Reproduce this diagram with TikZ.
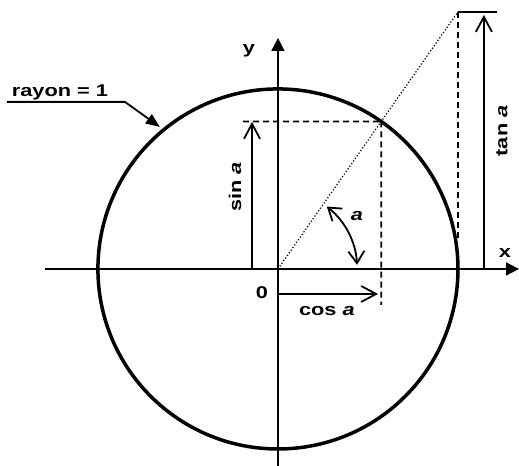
\documentclass[tikz,border=0pt]{standalone}
\usepackage{fontspec}
\setmainfont{Liberation Sans}[FakeStretch=1.28]
\usetikzlibrary{arrows.meta}
\tikzset{
  axis/.style={line width=1.8pt,-{Triangle[length=13pt,width=13pt]}},
  vec/.style={line width=1.8pt,-{Straight Barb[length=15pt,width=16pt]}},
  guide/.style={line width=1.8pt,dash pattern=on 6pt off 4pt},
  lbl/.style={font=\fontsize{17}{20}\selectfont\bfseries,inner sep=0pt}
}
\begin{document}
\begin{tikzpicture}[x=180pt,y=180pt]
\useasboundingbox (-1.544,-1.094) rectangle (1.339,1.494);
\coordinate (O) at (0,0);
\coordinate (P) at (55:1);
\coordinate (T) at (1,1.428);
\coordinate (xs) at (-1.294,0);
\coordinate (xe) at (1.339,0);
\coordinate (ys) at (0,-1.094);
\coordinate (ye) at (0,1.283);

\draw[axis] (xs)--(xe);
\draw[axis] (ys)--(ye);
\draw[line width=3.5pt] (O) circle[radius=1];

% tangente
\coordinate (tf) at (1,0.17);
\coordinate (te) at (1.217,1.428);
\coordinate (tb) at (1.144,0);
\coordinate (tt) at (1.144,1.411);
\draw[dotted,line width=1.2pt] (O)--(T);
\draw[guide] (T)--(tf);
\draw[line width=1.8pt] (T)--(te);
\draw[vec] (tb)--(tt);

% sinus et cosinus
\coordinate (sb) at (-0.144,0);
\coordinate (st) at (-0.144,0.817);
\coordinate (sl) at (-0.194,0.8192);
\coordinate (cf) at (0.5736,-0.2);
\coordinate (cb) at (0,-0.139);
\coordinate (ct) at (0.556,-0.139);
\draw[vec] (sb)--(st);
\draw[guide] (sl)--(P);
\draw[guide] (P)--(cf);
\draw[vec] (cb)--(ct);

% angle
\coordinate (a1) at (3:0.44);
\draw[line width=1.8pt,{Straight Barb[length=12pt,width=16pt]}-{Straight Barb[length=12pt,width=16pt]}]
  (a1) arc[start angle=3,end angle=52,radius=0.44];

% rayon
\coordinate (r1) at (-1.506,0.928);
\coordinate (r2) at (-0.85,0.928);
\coordinate (r3) at (-0.656,0.789);
\draw[line width=1.8pt,-{Triangle[length=14pt,width=11pt]}] (r1)--(r2)--(r3);

\node[lbl] (rayon) at (-1.211,0.983) {rayon = 1};
\node[lbl] (zero) at (-0.089,-0.133) {0};
\node[lbl] (cos) at (0.272,-0.233) {cos \textit{a}};
\node[lbl,rotate=90] (sin) at (-0.239,0.456) {sin \textit{a}};
\node[lbl] (ang) at (0.439,0.294) {\textit{a}};
\node[lbl,rotate=90] (tan) at (1.244,0.767) {tan \textit{a}};
\node[lbl] (xl) at (1.261,0.089) {x};
\node[lbl] (yl) at (-0.161,1.211) {y};
\end{tikzpicture}
\end{document}
